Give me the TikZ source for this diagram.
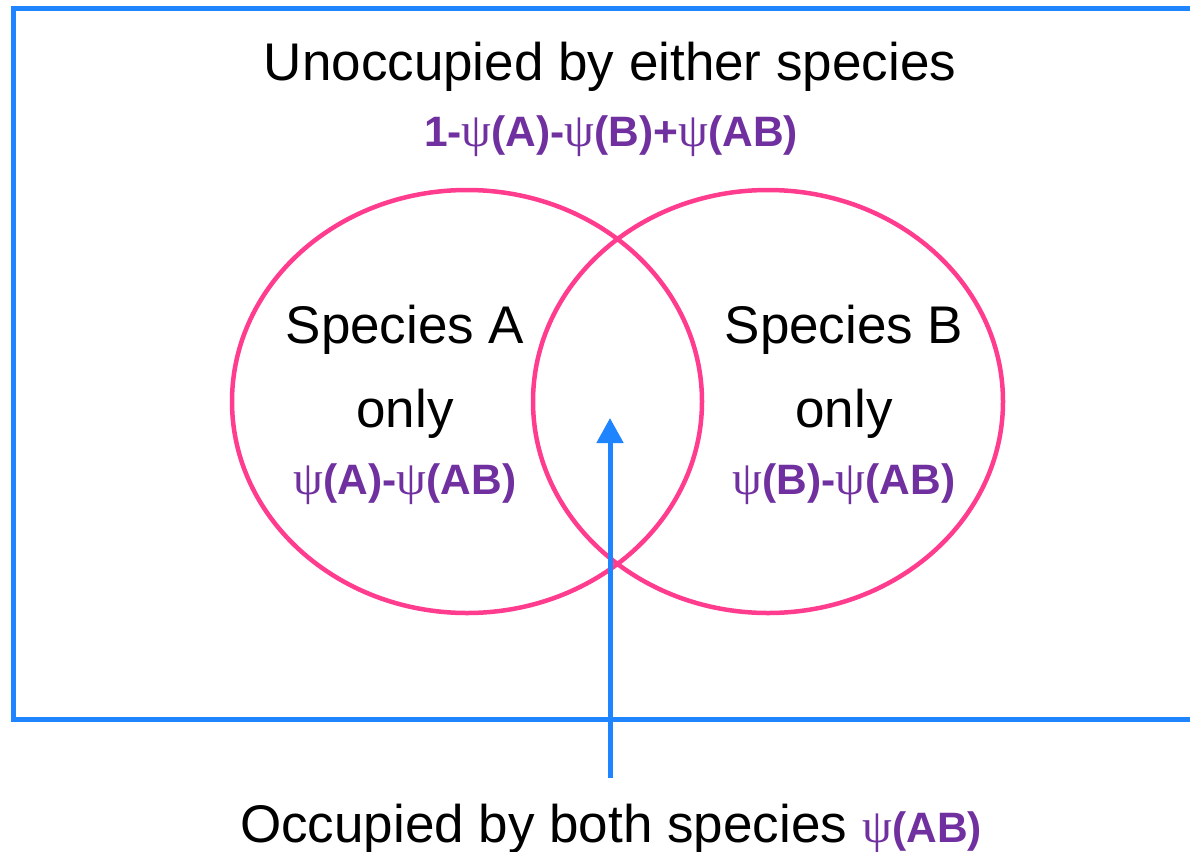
\documentclass[tikz,border=0pt]{standalone}
\usepackage{fontspec}
\setmainfont{Liberation Sans}
\newfontfamily\psifont[Scale=1.12]{Liberation Serif}
\usetikzlibrary{arrows.meta}
\definecolor{boxblue}{HTML}{1F84FF}
\definecolor{vennpink}{HTML}{FF3C8E}
\definecolor{formpurple}{HTML}{7030A0}
\newcommand{\ps}{{\psifont\mdseries ψ}}
\tikzset{
  big/.style={font=\fontsize{53}{60}\selectfont, text=black, inner sep=0pt, anchor=base},
  form/.style={font=\fontsize{42.5}{48}\selectfont\bfseries, text=formpurple, inner sep=0pt, anchor=base},
  venn/.style={draw=vennpink, line width=4.5pt},
}
\begin{document}
\begin{tikzpicture}[x=1pt,y=-1pt]
\useasboundingbox (0,0) rectangle (1190,851);
\clip (0,0) rectangle (1190,851);
\fill[white] (0,0) rectangle (1190,851);
\draw[boxblue, line width=5pt] (1200,9) -- (13,9) -- (13,719) -- (1200,719);
\draw[venn] (467,401.5) ellipse [x radius=235, y radius=211.5];
\draw[venn] (768,401.5) ellipse [x radius=235, y radius=211.5];
\node[big] (top) at (610,80) {Unoccupied by either species};
\node[form] (topf) at (611,146) {1-\ps(A)-\ps(B)+\ps(AB)};
\node[big] (sa) at (405,343) {Species A};
\node[big] (sao) at (405,427) {only};
\node[form] (saf) at (405,494) {\ps(A)-\ps(AB)};
\node[big] (sb) at (844,343) {Species B};
\node[big] (sbo) at (844,427) {only};
\node[form] (sbf) at (844,494) {\ps(B)-\ps(AB)};
\node[big, anchor=base west] (bot) at (240,842) {Occupied by both species};
\node[form, anchor=base west] (botf) at (bot.base east) {\hspace{15pt}\ps(AB)};
\coordinate (astart) at (610,778);
\coordinate (aend) at (610,418);
\draw[boxblue, line width=5pt, -{Triangle[width=26pt,length=25pt]}] (astart) -- (aend);
\end{tikzpicture}
\end{document}
